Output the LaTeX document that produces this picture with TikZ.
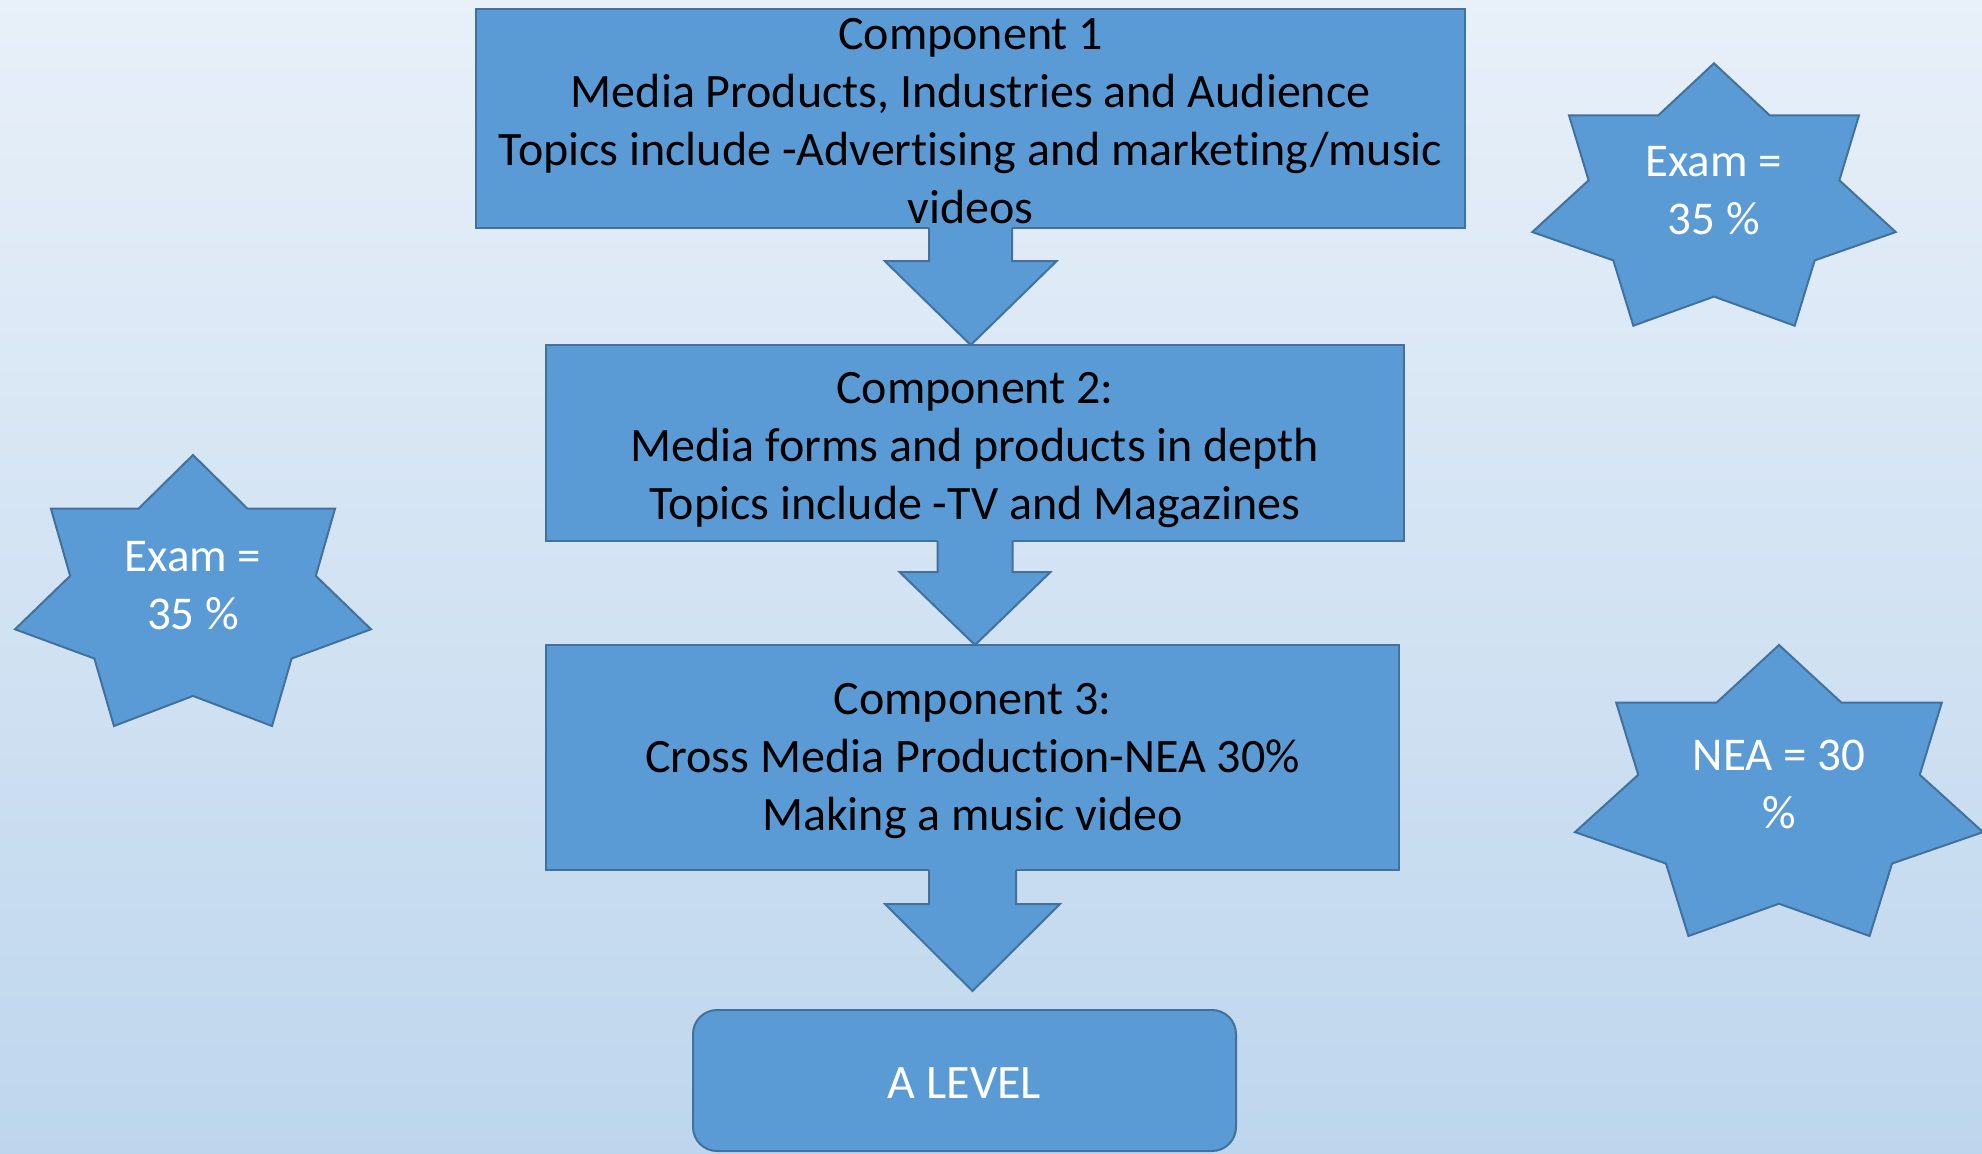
\documentclass[tikz,border=0pt]{standalone}
\usepackage{fontspec}
\setmainfont{Carlito}[Ligatures=NoCommon]
\usetikzlibrary{calc}
\definecolor{boxfill}{HTML}{5B9BD5}
\definecolor{boxline}{HTML}{41719C}
\definecolor{bgtop}{RGB}{232,240,249}
\definecolor{bgmid}{RGB}{206,224,242}
\definecolor{bgbot}{RGB}{190,214,237}
\tikzset{
  boxsty/.style={draw=boxline, fill=boxfill, line width=1pt, rectangle, inner sep=0pt, outer sep=0pt},
  roundsty/.style={boxsty, rounded corners=12pt, text=white, font=\fontsize{24}{29}\selectfont},
  boxtext/.style={align=center, font=\fontsize{24}{29}\selectfont, text=black, inner sep=0pt},
  starsty/.style={draw=boxline, fill=boxfill, line width=1pt, line join=miter},
  startext/.style={align=center, font=\fontsize{23.5}{28.7}\selectfont, text=white, inner sep=0pt},
  arrowfill/.style={fill=boxfill},
  arrowline/.style={draw=boxline, line width=1pt, line join=miter}
}
\newcommand\sevenstar[4]{%
  \begin{scope}[shift={(#1,#2)}, xscale=#3, yscale=#4]
    \draw[starsty] (0.5,0) -- (0.653,0.198) -- (0.899,0.198) -- (0.845,0.446) -- (1,0.643)
      -- (0.777,0.751) -- (0.722,1) -- (0.5,0.889) -- (0.278,1) -- (0.223,0.751)
      -- (0,0.643) -- (0.155,0.446) -- (0.101,0.198) -- (0.347,0.198) -- cycle;
  \end{scope}}
% #1 start (box south), #2 tip, #3 shaft half, #4 head half, #5 head length (pt)
\newcommand\blockarrow[5]{%
  \fill[arrowfill] let \p1=(#1), \p2=(#2) in
    (\x1-#3pt,\y1+0.6pt) -- (\x1-#3pt,\y2+#5pt) -- (\x1-#4pt,\y2+#5pt) -- (\x1,\y2)
    -- (\x1+#4pt,\y2+#5pt) -- (\x1+#3pt,\y2+#5pt) -- (\x1+#3pt,\y1+0.6pt) -- cycle;
  \draw[arrowline] let \p1=(#1), \p2=(#2) in
    (\x1-#3pt,\y1) -- (\x1-#3pt,\y2+#5pt) -- (\x1-#4pt,\y2+#5pt) -- (\x1,\y2)
    -- (\x1+#4pt,\y2+#5pt) -- (\x1+#3pt,\y2+#5pt) -- (\x1+#3pt,\y1);}
\begin{document}
\begin{tikzpicture}[x=0.5pt, y=-0.5pt]
\useasboundingbox (0,0) rectangle (1982,1153);
\clip (0,0) rectangle (1982,1153);
\shade[top color=bgtop, middle color=bgmid, bottom color=bgbot] (0,0) rectangle (1982,1153);

\node[boxsty, minimum width=494.25pt, minimum height=109.5pt] (b1) at (970.7,118) {};
\node[boxsty, minimum width=429pt, minimum height=98pt] (b2) at (975,443) {};
\node[boxsty, minimum width=426.5pt, minimum height=112.5pt] (b3) at (972.5,757.5) {};
\node[roundsty, minimum width=271.5pt, minimum height=70.5pt] (al) at (964.5,1080.5) {};
\coordinate (t3) at (972.5,991);

\blockarrow{b1.south}{b2.north}{20.75}{43}{42}
\blockarrow{b2.south}{b3.north}{18.75}{37.75}{36.5}
\blockarrow{b3.south}{t3}{21.75}{43.75}{43.5}

\node[boxtext] (b1t) at (970.7,121)
  {Component 1\\Media Products, Industries and Audience\\Topics include -Advertising and marketing/music\\videos};
\node[boxtext] (b2t) at (975,450)
  {Component 2:\\Media forms and products in depth\\Topics include -TV and Magazines};
\node[boxtext] (b3t) at (972.5,761)
  {Component 3:\\Cross Media Production-NEA 30\%\\Making a music video};
\node[boxtext, text=white] (alt) at (964.5,1083) {A LEVEL};

\sevenstar{1532.3}{63.3}{363.4}{262.4}
\node[startext] (s1) at (1713.7,190.5) {Exam =\\35 \%};
\sevenstar{15}{455}{356}{271}
\node[startext] (s2) at (193,585.5) {Exam =\\35 \%};
\sevenstar{1575}{645}{408}{291}
\node[startext] (s3) at (1779,784.5) {NEA = 30\\\%};
\end{tikzpicture}
\end{document}
